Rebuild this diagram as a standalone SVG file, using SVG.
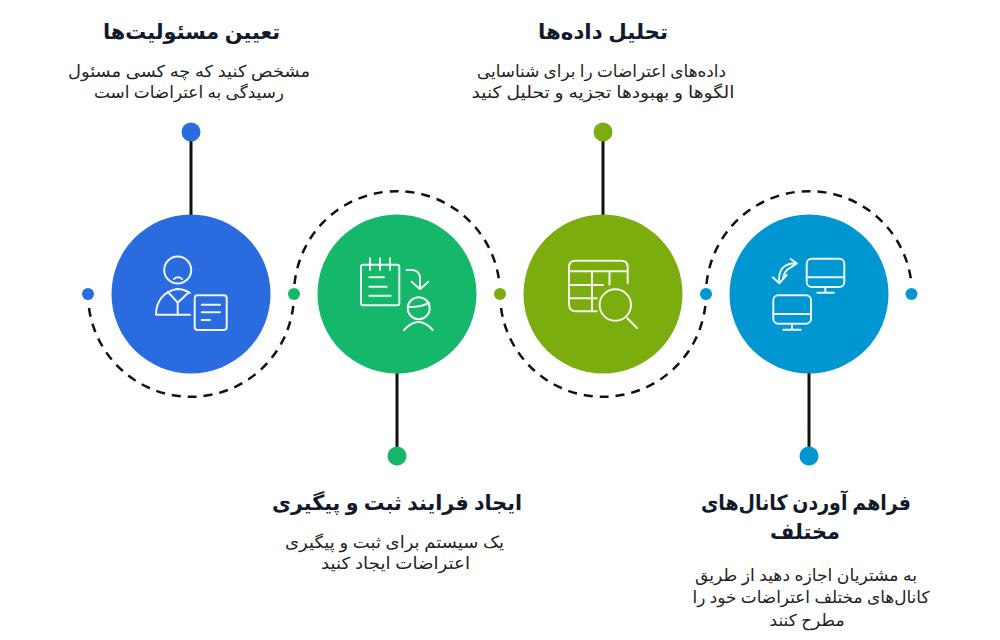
<svg xmlns="http://www.w3.org/2000/svg" width="1000" height="640" viewBox="0 0 1000 640">
<style>
text{font-family:"Noto Sans","DejaVu Sans",sans-serif;direction:rtl;text-anchor:middle}
.t{font-size:21px;font-weight:700;fill:#111a2b}
.b{font-size:16.500px;fill:#222}
.ic{fill:none;stroke:#fff;stroke-width:2;stroke-linecap:round;stroke-linejoin:round;opacity:.92}
.dash{fill:none;stroke:#111;stroke-width:2.5;stroke-dasharray:9 7}
.stem{stroke:#111;stroke-width:3}
</style>
<rect width="1000" height="640" fill="#fff"/>
<g id="connectors">
<path class="dash" d="M89 308A103 103 0 0 0 293.300 306"/>
<path class="dash" d="M294.500 284A103 103 0 0 1 499.500 284"/>
<path class="dash" d="M501 308A103 103 0 0 0 705.300 306"/>
<path class="dash" d="M706.500 284A103 103 0 0 1 911.500 284"/>
<line class="stem" x1="191" y1="132" x2="191" y2="216"/>
<line class="stem" x1="397" y1="373" x2="397" y2="456"/>
<line class="stem" x1="603" y1="132" x2="603" y2="216"/>
<line class="stem" x1="809" y1="373" x2="809" y2="456"/>
</g>
<g id="node-1">
<circle cx="191" cy="294" r="79.500" fill="#2A6BE0"/>
<circle cx="88" cy="294" r="6" fill="#2A6BE0"/>
<circle cx="191" cy="132" r="9.500" fill="#2A6BE0"/>
<g class="ic">
<circle cx="177.700" cy="270" r="13.500"/>
<path d="M174 279Q178 275.500 182 279"/>
<path d="M190 314.700H156C156 300 165 291 177 289Q184 289 190 293"/>
<path d="M168 292L177.700 302.700L188 293M177.700 302.700V314.700"/>
<rect x="194.700" y="295.300" width="32" height="34.700" rx="3"/>
<path d="M201.700 304.700H220M201.700 312.300H220M201.700 320H210"/>
</g>
<text class="t" x="191.500" y="39" textLength="177" lengthAdjust="spacingAndGlyphs">تعیین مسئولیت‌ها</text>
<text class="b" x="189" y="77" textLength="242" lengthAdjust="spacingAndGlyphs">مشخص کنید که چه کسی مسئول</text>
<text class="b" x="189" y="98" textLength="190" lengthAdjust="spacingAndGlyphs">رسیدگی به اعتراضات است</text>
</g>
<g id="node-2">
<circle cx="397" cy="294" r="79.500" fill="#15B86A"/>
<circle cx="294" cy="294" r="6" fill="#15B86A"/>
<circle cx="397" cy="456" r="9.500" fill="#15B86A"/>
<g class="ic">
<rect x="361" y="264.700" width="38.300" height="40.600" rx="2"/>
<path d="M370 258.300V270M380 258.300V270M390 258.300V270"/>
<path d="M369.300 277.300H384M369.300 286.700H386.700M369.300 295.700H390.700"/>
<path d="M406.700 270H412Q420 270 420 279V289.300M411.700 281.700L420 289.300L428.300 281.700"/>
<circle cx="418.700" cy="308.300" r="11"/>
<path d="M408 306.700Q420 308 429.300 302.700"/>
<path d="M404 330Q418.500 314 432.700 330"/>
</g>
<text class="t" x="397" y="510" textLength="250" lengthAdjust="spacingAndGlyphs">ایجاد فرایند ثبت و پیگیری</text>
<text class="b" x="394.500" y="548" textLength="219" lengthAdjust="spacingAndGlyphs">یک سیستم برای ثبت و پیگیری</text>
<text class="b" x="395.500" y="569" textLength="149" lengthAdjust="spacingAndGlyphs">اعتراضات ایجاد کنید</text>
</g>
<g id="node-3">
<circle cx="603" cy="294" r="79.500" fill="#7BAD0F"/>
<circle cx="500" cy="294" r="6" fill="#7BAD0F"/>
<circle cx="603" cy="132" r="9.500" fill="#7BAD0F"/>
<g class="ic">
<path d="M627.700 283.300V267Q627.700 260.700 621 260.700H575.500Q569 260.700 569 267V304Q569 311.300 576 311.300H596.700"/>
<path d="M569 271.300H627.700M592 271.300V311M609.500 271.300V284.500M569 285H603M569 298.300H596.700"/>
<circle cx="615.300" cy="305" r="15.700"/>
<path d="M627.300 318.300L637 328"/>
</g>
<text class="t" x="603" y="39" textLength="130" lengthAdjust="spacingAndGlyphs">تحلیل داده‌ها</text>
<text class="b" x="601.500" y="77" textLength="249" lengthAdjust="spacingAndGlyphs">داده‌های اعتراضات را برای شناسایی</text>
<text class="b" x="603" y="98" textLength="263" lengthAdjust="spacingAndGlyphs">الگوها و بهبودها تجزیه و تحلیل کنید</text>
</g>
<g id="node-4">
<circle cx="809" cy="294" r="79.500" fill="#0096D2"/>
<circle cx="706" cy="294" r="6" fill="#0096D2"/>
<circle cx="911.500" cy="294" r="6" fill="#0096D2"/>
<circle cx="809" cy="456" r="9.500" fill="#0096D2"/>
<g class="ic">
<rect x="806.700" y="258.700" width="37.600" height="28.300" rx="5"/>
<path d="M806.700 277.300H844.300M825.300 287V292.700M817.300 292.700H834"/>
<rect x="773.300" y="295.300" width="37.700" height="28.400" rx="5"/>
<path d="M773.300 314H811M792 323.700V329.700M783.300 329.700H800.700"/>
<path d="M790.700 259L796.700 263.300L789.300 268.300M796.700 263.300Q777 263 779.300 283.300M772.700 277.300L779.300 283.300L786.700 275M789.300 268.300Q784 271 783 279"/>
</g>
<text class="t" x="806" y="510" textLength="210" lengthAdjust="spacingAndGlyphs">فراهم آوردن کانال‌های</text>
<text class="t" x="805" y="539" textLength="70" lengthAdjust="spacingAndGlyphs">مختلف</text>
<text class="b" x="806" y="581" textLength="222" lengthAdjust="spacingAndGlyphs">به مشتریان اجازه دهید از طریق</text>
<text class="b" x="811" y="603" textLength="237" lengthAdjust="spacingAndGlyphs">کانال‌های مختلف اعتراضات خود را</text>
<text class="b" x="807" y="626" textLength="75" lengthAdjust="spacingAndGlyphs">مطرح کنند</text>
</g>
</svg>
